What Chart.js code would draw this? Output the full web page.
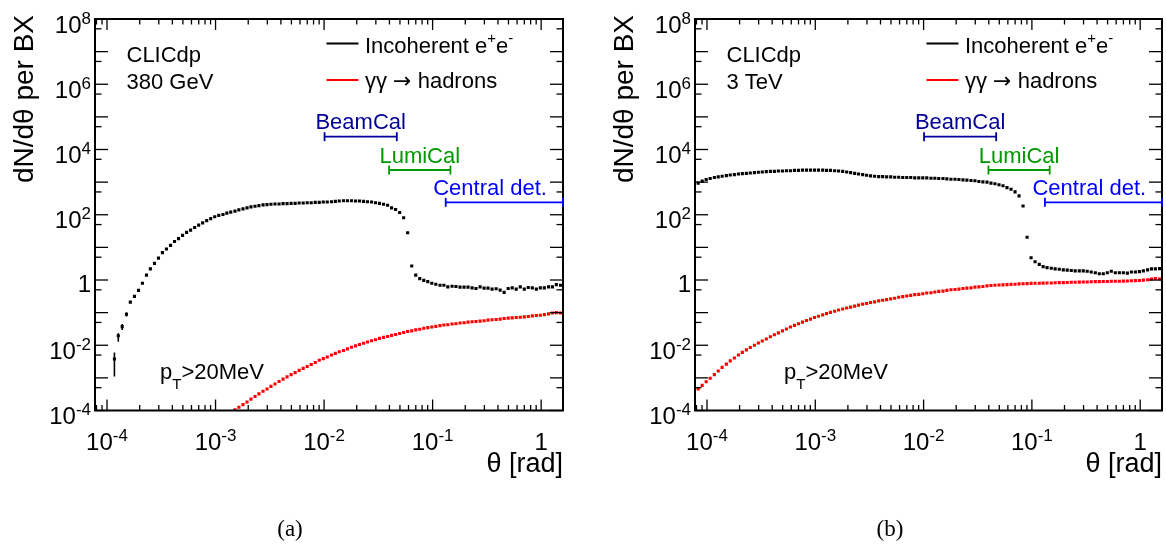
<!DOCTYPE html>
<html>
<head>
<meta charset="utf-8">
<script src="https://cdn.jsdelivr.net/npm/chart.js@4.4.1/dist/chart.umd.min.js"></script>
<style>
  body { margin: 0; background: #fff; width: 1166px; height: 549px; overflow: hidden; position: relative; }
  canvas { position: absolute; top: 0; }
  #panelA { left: 0; }
  #panelB { left: 600px; }
</style>
</head>
<body>
<canvas id="panelA" width="600" height="549"></canvas>
<canvas id="panelB" width="566" height="549"></canvas>
<script>
// bin centres in theta [rad], 27 log bins per decade
const thetaBins = [
  8.29e-5, 9.03e-5, 9.83e-5,
  1.07e-4, 1.17e-4, 1.27e-4, 1.38e-4, 1.51e-4, 1.64e-4, 1.79e-4, 1.95e-4, 2.12e-4, 2.31e-4, 2.51e-4, 2.74e-4,
  2.98e-4, 3.24e-4, 3.53e-4, 3.85e-4, 4.19e-4, 4.56e-4, 4.97e-4, 5.41e-4, 5.89e-4, 6.42e-4, 6.99e-4, 7.61e-4,
  8.29e-4, 9.03e-4, 9.83e-4,
  1.07e-3, 1.17e-3, 1.27e-3, 1.38e-3, 1.51e-3, 1.64e-3, 1.79e-3, 1.95e-3, 2.12e-3, 2.31e-3, 2.51e-3, 2.74e-3,
  2.98e-3, 3.24e-3, 3.53e-3, 3.85e-3, 4.19e-3, 4.56e-3, 4.97e-3, 5.41e-3, 5.89e-3, 6.42e-3, 6.99e-3, 7.61e-3,
  8.29e-3, 9.03e-3, 9.83e-3,
  1.07e-2, 1.17e-2, 1.27e-2, 1.38e-2, 1.51e-2, 1.64e-2, 1.79e-2, 1.95e-2, 2.12e-2, 2.31e-2, 2.51e-2, 2.74e-2,
  2.98e-2, 3.24e-2, 3.53e-2, 3.85e-2, 4.19e-2, 4.56e-2, 4.97e-2, 5.41e-2, 5.89e-2, 6.42e-2, 6.99e-2, 7.61e-2,
  0.0829, 0.0903, 0.0983,
  0.107, 0.117, 0.127, 0.138, 0.151, 0.164, 0.179, 0.195, 0.212, 0.231, 0.251, 0.274,
  0.298, 0.324, 0.353, 0.385, 0.419, 0.456, 0.497, 0.541, 0.589, 0.642, 0.699, 0.761,
  0.829, 0.903, 0.983,
  1.07, 1.17, 1.27, 1.38, 1.51
];

// 380 GeV: incoherent pairs, dN/dtheta per BX
const incoherent380 = [
  null, null, null, null, 3.80e-3, 1.95e-2, 3.72e-2, 8.91e-2, 0.209, 0.316,
  0.479, 0.794, 1.41, 2.19, 3.24, 4.68, 6.92, 8.91, 11.5, 15.1,
  18.6, 23.4, 28.8, 33.9, 40.7, 47.9, 56.2, 66.1, 75.9, 87.1,
  95.5, 102, 112, 120, 129, 141, 151, 162, 174, 182,
  191, 200, 204, 209, 214, 214, 219, 219, 224, 224,
  229, 229, 234, 234, 240, 240, 245, 245, 251, 257,
  263, 269, 269, 269, 263, 263, 257, 251, 245, 234,
  224, 209, 195, 162, 145, 117, 81.3, 28.2, 2.69, 1.41,
  1.10, 0.977, 0.891, 0.794, 0.741, 0.692, 0.692, 0.617, 0.646, 0.631,
  0.603, 0.603, 0.603, 0.575, 0.550, 0.617, 0.562, 0.562, 0.525, 0.537,
  0.490, 0.417, 0.550, 0.575, 0.525, 0.617, 0.525, 0.589, 0.575, 0.525,
  0.575, 0.575, 0.617, 0.617, 0.724, 0.692
];

// 380 GeV: gamma gamma -> hadrons
const hadrons380 = [
  null, null, null, null, null, null, null, null, null, null,
  null, null, null, null, null, null, null, null, null, null,
  null, null, null, null, null, null, null, null, null, null,
  null, null, null, null, 1.05e-4, 1.26e-4, 1.51e-4, 1.82e-4, 2.24e-4, 2.69e-4,
  3.24e-4, 3.89e-4, 4.57e-4, 5.50e-4, 6.46e-4, 7.76e-4, 9.12e-4, 1.07e-3, 1.26e-3, 1.45e-3,
  1.70e-3, 1.95e-3, 2.24e-3, 2.57e-3, 2.95e-3, 3.47e-3, 3.89e-3, 4.37e-3, 5.01e-3, 5.62e-3,
  6.31e-3, 6.92e-3, 7.76e-3, 8.71e-3, 9.55e-3, 1.05e-2, 1.15e-2, 1.26e-2, 1.38e-2, 1.48e-2,
  1.62e-2, 1.74e-2, 1.86e-2, 2.00e-2, 2.14e-2, 2.29e-2, 2.45e-2, 2.63e-2, 2.75e-2, 2.95e-2,
  3.09e-2, 3.31e-2, 3.47e-2, 3.63e-2, 3.80e-2, 3.98e-2, 4.17e-2, 4.27e-2, 4.47e-2, 4.57e-2,
  4.79e-2, 4.90e-2, 5.13e-2, 5.25e-2, 5.37e-2, 5.50e-2, 5.62e-2, 5.89e-2, 6.03e-2, 6.17e-2,
  6.31e-2, 6.61e-2, 6.76e-2, 6.92e-2, 7.08e-2, 7.24e-2, 7.41e-2, 7.59e-2, 7.94e-2, 8.13e-2,
  8.32e-2, 8.71e-2, 9.12e-2, 9.77e-2, 0.100, 9.77e-2
];

// 3 TeV: incoherent pairs
const incoherent3000 = [
  933, 1070, 1200, 1290, 1380, 1450, 1510, 1580, 1660, 1700,
  1780, 1820, 1860, 1910, 1950, 2000, 2040, 2090, 2140, 2140,
  2190, 2190, 2240, 2240, 2290, 2290, 2340, 2340, 2340, 2340,
  2340, 2340, 2290, 2290, 2240, 2190, 2140, 2040, 1950, 1860,
  1780, 1700, 1620, 1550, 1510, 1480, 1480, 1450, 1450, 1410,
  1410, 1380, 1380, 1380, 1350, 1350, 1350, 1350, 1320, 1320,
  1290, 1290, 1260, 1230, 1230, 1200, 1170, 1150, 1120, 1100,
  1050, 1020, 1000, 933, 891, 832, 776, 676, 603, 501,
  380, 186, 20.4, 4.79, 3.63, 3.02, 2.57, 2.40, 2.29, 2.19,
  2.14, 2.04, 2.00, 1.95, 1.91, 1.91, 1.91, 1.86, 1.76, 1.66,
  1.55, 1.55, 1.66, 1.86, 1.66, 1.66, 1.66, 1.62, 1.76, 1.76,
  1.80, 1.91, 2.04, 2.19, 2.19, 2.24
];

// 3 TeV: gamma gamma -> hadrons
const hadrons3000 = [
  4.57e-4, 5.89e-4, 7.59e-4, 9.77e-4, 1.26e-3, 1.62e-3, 2.09e-3, 2.63e-3, 3.31e-3, 4.07e-3,
  5.01e-3, 6.03e-3, 7.24e-3, 8.51e-3, 1.00e-2, 1.17e-2, 1.35e-2, 1.55e-2, 1.82e-2, 2.09e-2,
  2.40e-2, 2.75e-2, 3.16e-2, 3.63e-2, 4.07e-2, 4.57e-2, 5.13e-2, 5.75e-2, 6.31e-2, 7.08e-2,
  7.76e-2, 8.51e-2, 9.33e-2, 0.102, 0.110, 0.120, 0.129, 0.138, 0.148, 0.158,
  0.170, 0.182, 0.191, 0.204, 0.214, 0.229, 0.240, 0.251, 0.263, 0.275,
  0.295, 0.309, 0.324, 0.339, 0.355, 0.363, 0.380, 0.398, 0.407, 0.427,
  0.447, 0.457, 0.479, 0.501, 0.513, 0.525, 0.550, 0.562, 0.575, 0.603,
  0.617, 0.631, 0.661, 0.676, 0.692, 0.700, 0.708, 0.724, 0.733, 0.741,
  0.759, 0.767, 0.776, 0.785, 0.794, 0.794, 0.804, 0.813, 0.813, 0.822,
  0.832, 0.832, 0.841, 0.851, 0.851, 0.861, 0.871, 0.871, 0.881, 0.891,
  0.891, 0.902, 0.902, 0.912, 0.912, 0.912, 0.923, 0.933, 0.944, 0.955,
  0.966, 0.989, 1.02, 1.06, 1.10, 1.07
];

// error bars on the lowest populated bins (380 GeV)
const errBins380 = [4, 5, 6, 7];
const errLow380 = [1.1e-3, 1.29e-2, 2.95e-2, 7.6e-2];
const errHigh380 = [6.0e-3, 2.34e-2, 4.47e-2, 0.102];

// angular coverage of the sub-detectors
const detNames = ['BeamCal', 'LumiCal', 'Central det.'];
const detThetaMin = [0.0101, 0.0397, 0.132];
const detThetaMax = [0.0468, 0.146, 1.59];
const detLevel = [2.47e4, 2.35e3, 240];
const detColors = ['#000099', '#009900', '#0000ff'];

const yLabelExp = [-4, -2, 0, 2, 4, 6, 8];
const xLabelExp = [-4, -3, -2, -1, 0];

const SANS = '"Liberation Sans", Arial, sans-serif';

function line(ctx, x1, y1, x2, y2) {
  ctx.beginPath();
  ctx.moveTo(x1, y1);
  ctx.lineTo(x2, y2);
  ctx.stroke();
}

// draws 10^e (or 1) with a raised exponent
function drawPow(ctx, e, x, baseY, align) {
  const base = e === 0 ? '1' : '10';
  const sup = e === 0 ? '' : String(e);
  ctx.font = '24px ' + SANS;
  const wb = ctx.measureText(base).width;
  ctx.font = '17px ' + SANS;
  const ws = sup ? ctx.measureText(sup).width : 0;
  const x0 = align === 'right' ? x - wb - ws : x - (wb + ws) / 2;
  ctx.textAlign = 'left';
  ctx.font = '24px ' + SANS;
  ctx.fillText(base, x0, baseY);
  if (sup) {
    ctx.font = '17px ' + SANS;
    ctx.fillText(sup, x0 + wb, baseY - 9);
  }
}

function makePanel(id, incoh, hadr, energy, ptX, caption, err) {
  const canvas = document.getElementById(id);
  const W = canvas.width;
  const toXY = vals => thetaBins.map((t, i) => ({ x: t, y: vals[i] }));

  const decor = {
    id: 'decor',
    afterDraw(chart) {
      const ctx = chart.ctx;
      const a = chart.chartArea;
      const sx = chart.scales.x, sy = chart.scales.y;
      ctx.save();
      ctx.fillStyle = '#000';
      ctx.strokeStyle = '#000';

      // error bars
      if (err) {
        ctx.lineWidth = 1.6;
        err.bins.forEach((j, k) => {
          const px = sx.getPixelForValue(thetaBins[j]);
          line(ctx, px, sy.getPixelForValue(err.lo[k]), px, sy.getPixelForValue(err.hi[k]));
        });
      }

      // ticks on all four sides
      ctx.lineWidth = 1.3;
      for (let e = -4; e <= 8; e++) {
        const py = sy.getPixelForValue(Math.pow(10, e));
        line(ctx, a.left, py, a.left + 13, py);
        line(ctx, a.right - 13, py, a.right, py);
        if (e > -4) {
          const pm = sy.getPixelForValue(5 * Math.pow(10, e - 1));
          line(ctx, a.left, pm, a.left + 6.5, pm);
          line(ctx, a.right - 6.5, pm, a.right, pm);
        }
      }
      for (let e = -5; e <= 0; e++) {
        for (let m = 1; m <= 9; m++) {
          const v = m * Math.pow(10, e);
          if (v < sx.min || v > sx.max) continue;
          const px = sx.getPixelForValue(v);
          const len = m === 1 ? 11 : 5.5;
          line(ctx, px, a.bottom, px, a.bottom - len);
          line(ctx, px, a.top, px, a.top + len);
        }
      }

      // frame
      ctx.lineWidth = 2;
      ctx.strokeRect(a.left, a.top, a.right - a.left, a.bottom - a.top);

      // tick labels
      ctx.textBaseline = 'alphabetic';
      yLabelExp.forEach(e => {
        const py = sy.getPixelForValue(Math.pow(10, e));
        drawPow(ctx, e, a.left - 4, py + (e === 0 ? 12 : 13.5), 'right');
      });
      xLabelExp.forEach(e => {
        drawPow(ctx, e, sx.getPixelForValue(Math.pow(10, e)), 450, 'center');
      });

      // axis titles
      ctx.font = '27px ' + SANS;
      ctx.textAlign = 'right';
      ctx.fillText('θ [rad]', a.right, 472);
      ctx.save();
      ctx.translate(33, 15);
      ctx.rotate(-Math.PI / 2);
      ctx.font = '28px ' + SANS;
      ctx.fillText('dN/dθ per BX', 0, 0);
      ctx.restore();

      // labels inside the frame
      ctx.textAlign = 'left';
      ctx.font = '22px ' + SANS;
      ctx.fillText('CLICdp', 126.5, 61.5);
      ctx.fillText(energy, 126.5, 88.5);
      ctx.fillText('p', ptX, 378.5);
      const wp = ctx.measureText('p').width;
      ctx.font = '15px ' + SANS;
      ctx.fillText('T', ptX + wp, 389);
      const wt = ctx.measureText('T').width;
      ctx.font = '22px ' + SANS;
      ctx.fillText('>20MeV', ptX + wp + wt, 378.5);

      // legend
      ctx.lineWidth = 2;
      ctx.strokeStyle = '#000';
      line(ctx, 326.5, 43.5, 358.5, 43.5);
      ctx.strokeStyle = '#ff0000';
      line(ctx, 326.5, 80, 358.5, 80);
      let tx = 365;
      ctx.font = '22px ' + SANS;
      ctx.fillText('Incoherent e', tx, 52.5);
      tx += ctx.measureText('Incoherent e').width;
      ctx.font = '15px ' + SANS;
      ctx.fillText('+', tx, 43);
      tx += ctx.measureText('+').width;
      ctx.font = '22px ' + SANS;
      ctx.fillText('e', tx, 52.5);
      tx += ctx.measureText('e').width;
      ctx.font = '15px ' + SANS;
      ctx.fillText('-', tx, 43);
      tx = 365;
      ctx.font = '22px ' + SANS;
      ctx.fillText('γγ ', tx, 88);
      tx += ctx.measureText('γγ ').width;
      ctx.font = '22px "DejaVu Sans", sans-serif';
      ctx.fillText('→', tx, 88);
      tx += ctx.measureText('→').width;
      ctx.font = '22px ' + SANS;
      ctx.fillText(' hadrons', tx, 88);

      // sub-detector coverage
      detNames.forEach((name, k) => {
        const x1 = sx.getPixelForValue(detThetaMin[k]);
        const x2 = Math.min(sx.getPixelForValue(detThetaMax[k]), a.right);
        const py = sy.getPixelForValue(detLevel[k]);
        ctx.strokeStyle = detColors[k];
        ctx.fillStyle = detColors[k];
        ctx.lineWidth = 1.8;
        line(ctx, x1, py, x2, py);
        line(ctx, x1, py - 4.5, x1, py + 4.5);
        line(ctx, x2, py - 4.5, x2, py + 4.5);
        ctx.font = '22px ' + SANS;
        if (k < 2) {
          ctx.textAlign = 'center';
          ctx.fillText(name, (x1 + x2) / 2, py - 7.5);
        } else {
          ctx.textAlign = 'left';
          ctx.fillText(name, x1 - 12.5, py - 7.5);
        }
      });

      // caption
      ctx.fillStyle = '#000';
      ctx.textAlign = 'center';
      ctx.font = '23px "Liberation Serif", "Times New Roman", serif';
      ctx.fillText(caption, 290, 536);
      ctx.restore();
    }
  };

  return new Chart(canvas, {
    type: 'scatter',
    data: {
      datasets: [
        {
          label: 'Incoherent e+e-',
          data: toXY(incoh),
          pointStyle: 'rect',
          pointRadius: 2.2,
          pointBorderWidth: 0,
          pointBackgroundColor: '#000',
          showLine: false
        },
        {
          label: 'γγ → hadrons',
          data: toXY(hadr),
          pointStyle: 'rect',
          pointRadius: 2.2,
          pointBorderWidth: 0,
          pointBackgroundColor: '#ff0000',
          showLine: false
        }
      ]
    },
    options: {
      responsive: false,
      animation: false,
      devicePixelRatio: 1,
      layout: { padding: { top: 19, right: W - 563, left: 0, bottom: 0 } },
      plugins: { legend: { display: false }, tooltip: { enabled: false } },
      scales: {
        x: {
          type: 'logarithmic', min: 7.75e-5, max: 1.59,
          grid: { display: false }, border: { display: false },
          ticks: { display: false },
          afterFit: s => { s.height = 549 - 410.5; }
        },
        y: {
          type: 'logarithmic', min: 1e-4, max: 1e8,
          grid: { display: false }, border: { display: false },
          ticks: { display: false },
          afterFit: s => { s.width = 95; }
        }
      }
    },
    plugins: [decor]
  });
}

makePanel('panelA', incoherent380, hadrons380, '380 GeV', 160, '(a)',
  { bins: errBins380, lo: errLow380, hi: errHigh380 });
makePanel('panelB', incoherent3000, hadrons3000, '3 TeV', 184, '(b)', null);
</script>
</body>
</html>
